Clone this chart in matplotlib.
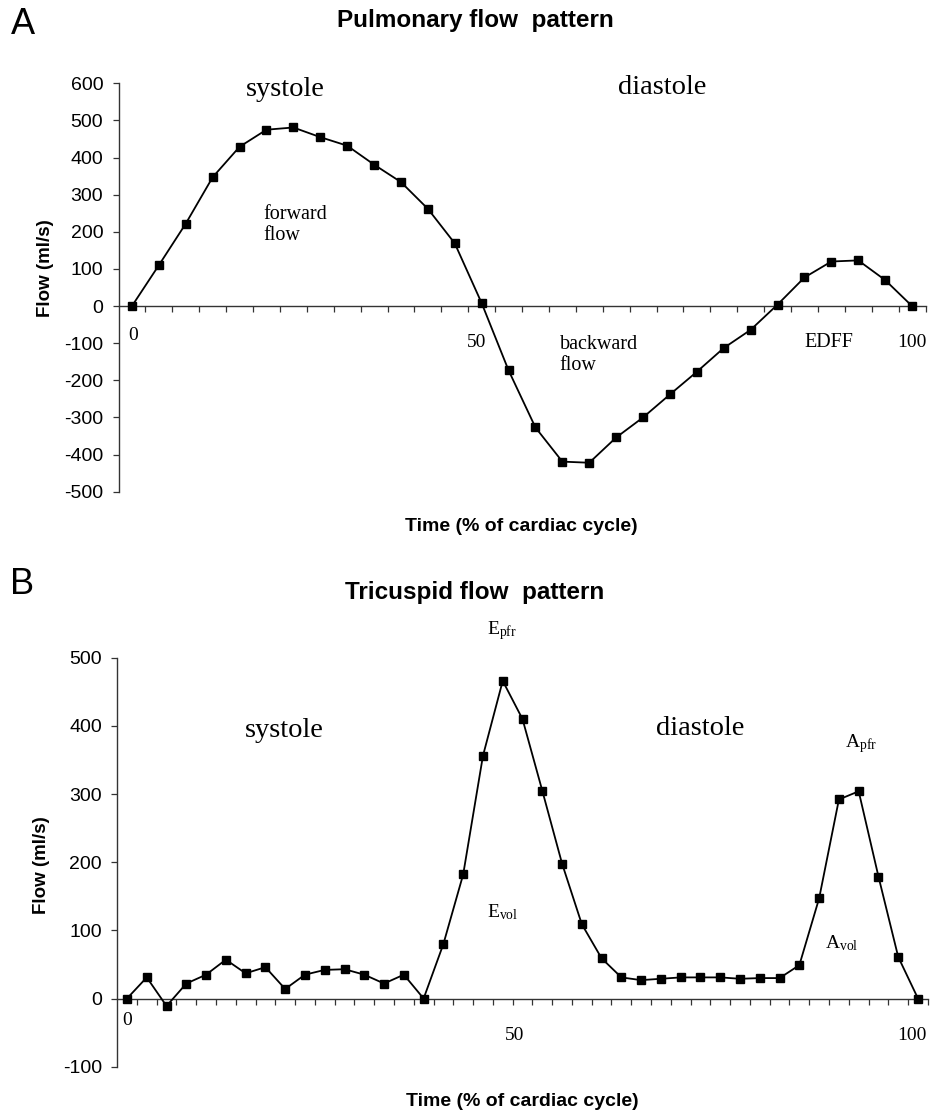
import matplotlib
matplotlib.use("Agg")
import matplotlib.pyplot as plt
import numpy as np

plt.rcParams['font.family'] = ['Liberation Sans', 'DejaVu Sans']
plt.rcParams['mathtext.fontset'] = 'custom'
plt.rcParams['mathtext.rm'] = 'Liberation Serif'
plt.rcParams['mathtext.it'] = 'Liberation Serif:italic'

# ---------------- data ----------------
# Pulmonary flow (ml/s), 30 equally spaced samples over the cardiac cycle
pulm_flow = [0, 110, 222, 347, 429, 475, 481, 455, 432, 381,
             334, 262, 169, 8, -173, -327, -419, -422, -354, -300,
             -238, -177, -113, -64, 4, 77, 120, 123, 70, 0]
# Tricuspid flow (ml/s), 41 equally spaced samples over the cardiac cycle
tric_flow = [0, 31, -11, 22, 35, 57, 37, 46, 14, 35,
             42, 43, 35, 22, 35, 0, 80, 182, 356, 466,
             410, 305, 198, 109, 59, 31, 27, 29, 31, 31,
             31, 29, 30, 30, 49, 147, 292, 304, 179, 61, 0]
pulm_yticks = [600, 500, 400, 300, 200, 100, 0, -100, -200, -300, -400, -500]
tric_yticks = [500, 400, 300, 200, 100, 0, -100]
time_labels = ["0", "50", "100"]

W, H = 930, 1113
fig = plt.figure(figsize=(W / 100, H / 100), dpi=100)

def px_rect(l, t, r, b):
    return [l / W, 1 - b / H, (r - l) / W, (b - t) / H]

def ftext(x, y, s, **kw):
    fig.text(x / W, 1 - y / H, s, **kw)

serif = ['Liberation Serif', 'DejaVu Serif']
lab_fs = 14

def style_axis(ax, values, ylim, yticks):
    n = len(values)
    ax.plot(np.arange(n), values,
            color='black', lw=1.3, marker='s', ms=5.8, mfc='black', mec='black',
            clip_on=False, zorder=3)
    ax.set_xlim(-0.5, n - 0.5)
    ax.set_ylim(*ylim)
    ax.spines['top'].set_visible(False)
    ax.spines['right'].set_visible(False)
    ax.spines['bottom'].set_position(('data', 0))
    ax.spines['bottom'].set_color('#333333')
    ax.spines['left'].set_color('#333333')
    ax.spines['bottom'].set_linewidth(1.0)
    ax.spines['left'].set_linewidth(1.0)
    ax.set_xticks(np.arange(n) + 0.5)
    ax.set_xticklabels([])
    ax.tick_params(axis='x', direction='out', length=4, width=0.9, color='#333333')
    ax.set_yticks(yticks)
    ax.set_yticklabels([str(v) for v in yticks])
    ax.tick_params(axis='y', direction='out', length=4, width=0.9, color='#333333',
                   labelsize=lab_fs, pad=7)
    ax.patch.set_visible(False)

# ---------------- Panel A ----------------
axA = fig.add_axes(px_rect(118.5, 83.3, 925.5, 491.7))
style_axis(axA, pulm_flow, (-500, 600), pulm_yticks)

ftext(23, 25, "A", fontsize=26, ha='center', va='center')
ftext(475, 20, "Pulmonary flow  pattern", fontsize=17.5, fontweight='bold',
      ha='center', va='center')
ftext(521, 527, "Time (% of cardiac cycle)", fontsize=14, fontweight='bold',
      ha='center', va='center')
ftext(45, 268, "Flow (ml/s)", fontsize=13.5, fontweight='bold', rotation=90,
      ha='center', va='center')

axA.text(5.69, 583, "systole", family=serif, fontsize=20.5, ha='center', va='center')
axA.text(19.7, 588, "diastole", family=serif, fontsize=20.5, ha='center', va='center')
axA.text(4.87, 219, "forward\nflow", family=serif, fontsize=14.5, ha='left',
         va='center', linespacing=1.15)
axA.text(15.9, -131, "backward\nflow", family=serif, fontsize=14.5, ha='left',
         va='center', linespacing=1.15)
axA.text(25.0, -99, "EDFF", family=serif, fontsize=14.5, ha='left', va='center')
for xi, yi, s in [(0.05, -78, time_labels[0]), (12.8, -99, time_labels[1]),
                  (29.0, -99, time_labels[2])]:
    axA.text(xi, yi, s, family=serif, fontsize=14, ha='center', va='center')

# ---------------- Panel B ----------------
axB = fig.add_axes(px_rect(117.1, 657.7, 927.9, 1066.7))
style_axis(axB, tric_flow, (-100, 500), tric_yticks)

ftext(22, 584, "B", fontsize=26, ha='center', va='center')
ftext(475, 593, "Tricuspid flow  pattern", fontsize=17.5, fontweight='bold',
      ha='center', va='center')
ftext(522, 1101, "Time (% of cardiac cycle)", fontsize=14, fontweight='bold',
      ha='center', va='center')
ftext(41, 865, "Flow (ml/s)", fontsize=13.5, fontweight='bold', rotation=90,
      ha='center', va='center')

axB.text(7.94, 393, "systole", family=serif, fontsize=20.5, ha='center', va='center')
axB.text(29.0, 396, "diastole", family=serif, fontsize=20.5, ha='center', va='center')
axB.text(18.2, 540, r"E$_{\mathrm{pfr}}$", family=serif, fontsize=14, ha='left',
         va='center', clip_on=False)
axB.text(18.2, 126, r"E$_{\mathrm{vol}}$", family=serif, fontsize=14, ha='left',
         va='center')
axB.text(36.3, 374, r"A$_{\mathrm{pfr}}$", family=serif, fontsize=14, ha='left',
         va='center')
axB.text(35.3, 81, r"A$_{\mathrm{vol}}$", family=serif, fontsize=14, ha='left',
         va='center')
axB.text(0.0, -32, time_labels[0], family=serif, fontsize=14, ha='center', va='center')
axB.text(19.6, -54, time_labels[1], family=serif, fontsize=14, ha='center', va='center')
axB.text(40.45, -54, time_labels[2], family=serif, fontsize=14, ha='right', va='center')

fig.savefig("out.png", dpi=100, facecolor='white')
